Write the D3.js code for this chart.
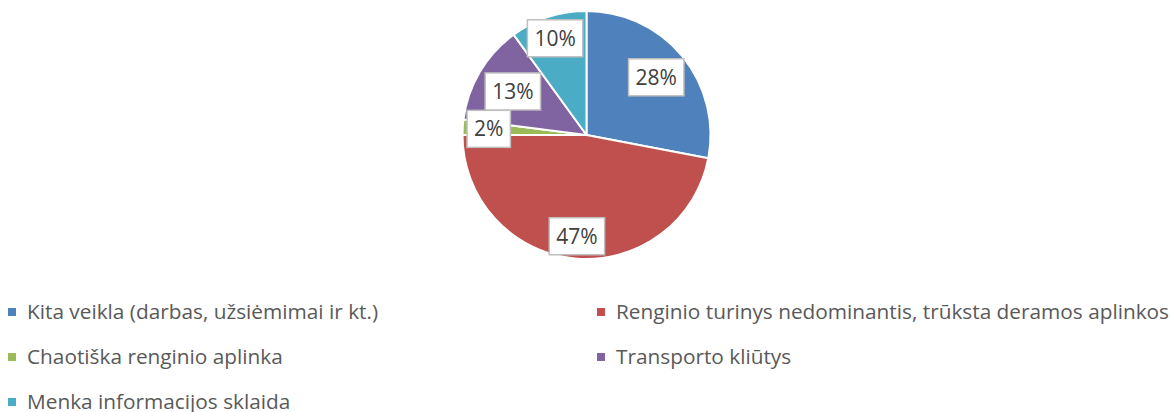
<!DOCTYPE html>
<html>
<head>
<meta charset="utf-8">
<script src="https://cdn.jsdelivr.net/npm/d3@7"></script>
<style>
  body { margin: 0; background: #fff; }
  svg { display: block; font-family: "Open Sans", "Noto Sans", sans-serif; }
</style>
</head>
<body>
<div id="chart"></div>
<script>
// -- data ---------------------------------------------------------------
const categories = [
  'Kita veikla (darbas, užsiėmimai ir kt.)',
  'Renginio turinys nedominantis, trūksta deramos aplinkos',
  'Chaotiška renginio aplinka',
  'Transporto kliūtys',
  'Menka informacijos sklaida'
];
const shares = [28, 47, 2, 13, 10];
const colors = ['#4f81bd', '#c0504d', '#9bbb59', '#8064a2', '#4bacc6'];

// label distance from centre, as fraction of radius (Excel "best fit" look)
const labelR = [0.73, 0.82, 0.79, 0.69, 0.82];

const W = 1171, H = 412;
const cx = 586.5, cy = 135, R = 124;

const svg = d3.select('#chart').append('svg')
  .attr('width', W).attr('height', H);

const pie = d3.pie().sort(null).value(d => d)
  .startAngle(0).endAngle(2 * Math.PI);
const arcs = pie(shares);
const arc = d3.arc().innerRadius(0).outerRadius(R);

const g = svg.append('g').attr('transform', `translate(${cx},${cy})`);

g.selectAll('path.slice').data(arcs).join('path')
  .attr('class', 'slice')
  .attr('d', arc)
  .attr('fill', (d, i) => colors[i])
  .attr('stroke', '#fff')
  .attr('stroke-width', 2)
  .attr('stroke-linejoin', 'round');

// -- data labels: white callout boxes -----------------------------------
const lbl = g.selectAll('g.lbl').data(arcs).join('g')
  .attr('class', 'lbl')
  .attr('transform', (d, i) => {
    const a = (d.startAngle + d.endAngle) / 2;
    const r = R * labelR[i];
    return `translate(${Math.sin(a) * r},${-Math.cos(a) * r})`;
  });

lbl.each(function (d, i) {
  const sel = d3.select(this);
  const txt = sel.append('text')
    .attr('text-anchor', 'middle')
    .attr('dy', '0.36em')
    .attr('fill', '#404040')
    .style('font-size', '21px')
    .text(d.data + '%');
  const w = txt.node().getComputedTextLength() + 14;
  const h = 37;
  sel.insert('rect', 'text')
    .attr('x', -w / 2).attr('y', -h / 2)
    .attr('width', w).attr('height', h)
    .attr('fill', '#fff')
    .attr('stroke', '#bfbfbf')
    .attr('stroke-width', 1.5);
});

// -- legend ---------------------------------------------------------------
const colX = [8, 597];
const rowY0 = 312, rowStep = 45;

const leg = svg.selectAll('g.leg').data(categories).join('g')
  .attr('class', 'leg')
  .attr('transform', (d, i) =>
    `translate(${colX[i % 2]},${rowY0 + Math.floor(i / 2) * rowStep})`);

leg.append('rect')
  .attr('x', 0).attr('y', -4)
  .attr('width', 8).attr('height', 8)
  .attr('fill', (d, i) => colors[i]);

leg.append('text')
  .attr('x', 19)
  .attr('dy', '0.35em')
  .attr('fill', '#595959')
  .style('font-size', '20.8px')
  .text(d => d);
</script>
</body>
</html>
